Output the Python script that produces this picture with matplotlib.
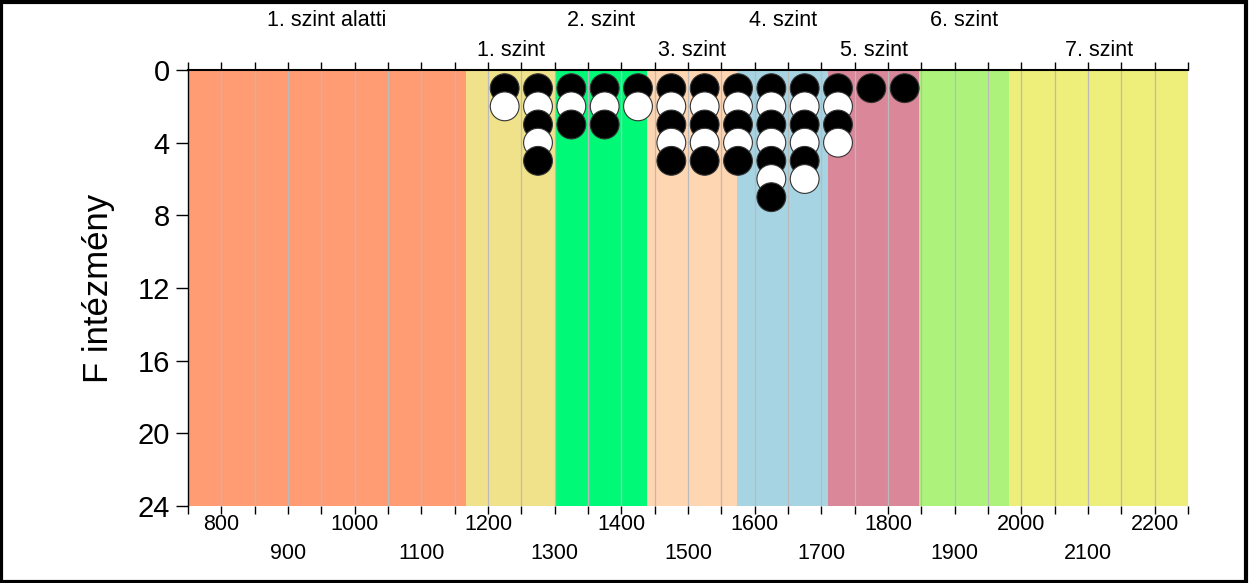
import matplotlib.pyplot as plt
from matplotlib.patches import Rectangle

plt.rcParams['font.family'] = ['Liberation Sans', 'DejaVu Sans']

# Data
band_edges = [750, 1167, 1301, 1438, 1574, 1710, 1847, 1982, 2250]
band_labels = ["1. szint alatti", "1. szint", "2. szint", "3. szint",
               "4. szint", "5. szint", "6. szint", "7. szint"]
band_colors = ["#FF9C73", "#F0E28A", "#00FA78", "#FFD6B2",
               "#A6D4E3", "#D98799", "#ADF27A", "#EEEE7A"]

col_x = [1225, 1275, 1325, 1375, 1425, 1475, 1525, 1575, 1625, 1675, 1725, 1775, 1825]
col_counts = [2, 5, 3, 3, 2, 5, 5, 5, 7, 6, 4, 1, 1]

tick_vals = list(range(800, 2201, 100))
y_ticks = [0, 4, 8, 12, 16, 20, 24]

fig = plt.figure(figsize=(12.5, 5.83), dpi=100)
ax = fig.add_axes([0.1504, 0.1321, 0.8, 0.7478])

# -----------------------------
# bands
# -----------------------------
for i in range(len(band_labels)):
    ax.axvspan(band_edges[i], band_edges[i + 1], color=band_colors[i], lw=0, zorder=0)
    mid = (band_edges[i] + band_edges[i + 1]) / 2
    ypos = 1.0 + 50 / 436 if i % 2 == 0 else 1.0 + 20 / 436
    ax.text(mid, ypos, band_labels[i], transform=ax.get_xaxis_transform(),
            ha="center", va="center", fontsize=15.5)

# grid lines every 50
for g in range(800, 2250, 50):
    ax.axvline(g, color="#bbbbbb", lw=0.9, zorder=1)

# -----------------------------
# circles
# -----------------------------
xs, ys, cs = [], [], []
for x, n in zip(col_x, col_counts):
    for k in range(1, n + 1):
        xs.append(x)
        ys.append(k)
        cs.append("black" if k % 2 == 1 else "white")
ax.scatter(xs, ys, s=430, c=cs, edgecolors="#333333", linewidths=0.8, zorder=3)

# -----------------------------
# axes
# -----------------------------
ax.set_xlim(750, 2250)
ax.set_ylim(24, 0)
ax.set_yticks(y_ticks)
ax.tick_params(axis="y", labelsize=21, length=9, width=1, pad=4)

ax.set_xticks(tick_vals)
ax.set_xticklabels([str(v) if (v // 100) % 2 == 0 else "\n" + str(v) for v in tick_vals])
ax.set_xticks(list(range(750, 2251, 50)), minor=True)
ax.tick_params(axis="x", which="both", labelsize=15.5, length=6, width=1,
               top=True, bottom=True, direction="out", pad=0)
ax.tick_params(axis="x", which="major", labeltop=False)
for lab in ax.get_xticklabels():
    lab.set_linespacing(1.5)

ax.spines["right"].set_visible(False)
ax.spines["bottom"].set_visible(False)
ax.spines["top"].set_linewidth(1.5)
ax.spines["left"].set_linewidth(1)

ax.set_ylabel("F intézmény", fontsize=25, labelpad=16)

# figure frame
fig.patches.append(Rectangle((0.001, 0.002), 0.996, 0.995, transform=fig.transFigure,
                             fill=False, edgecolor="black", linewidth=3))

fig.savefig("out.png", dpi=100)
